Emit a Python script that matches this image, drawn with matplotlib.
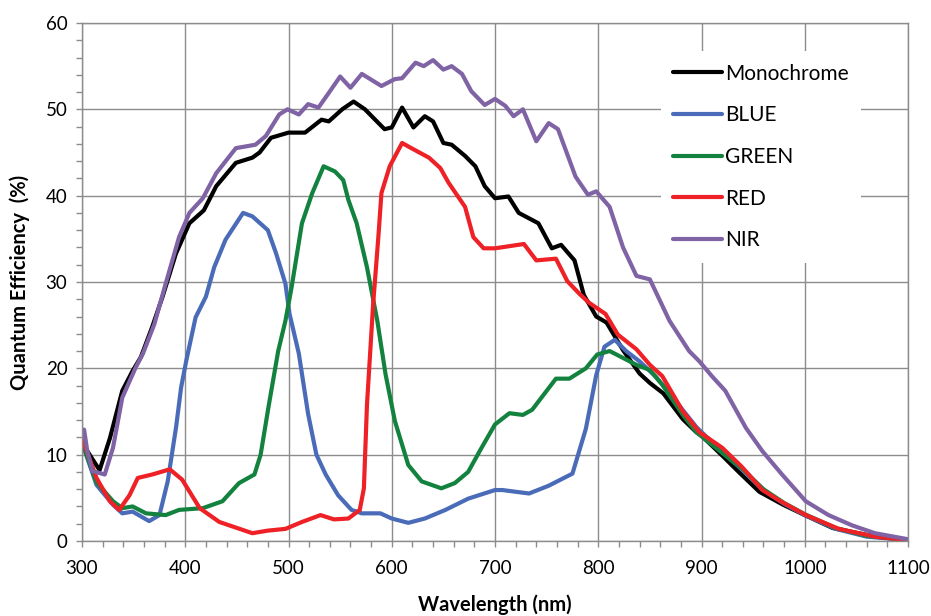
import matplotlib
matplotlib.use("Agg")
import matplotlib.pyplot as plt
from matplotlib.ticker import MultipleLocator

plt.rcParams['font.family'] = ['Lato', 'DejaVu Sans']

# Wavelength (nm) / quantum efficiency (%)
mono_x = [302, 310, 317, 327, 339, 349, 357, 368, 378, 391, 404, 418, 430, 449, 465, 472, 483, 500,
          516, 532, 539, 552, 563, 574, 593, 600, 610, 621, 632, 640, 650, 658, 671, 681, 690, 700,
          713, 723, 742, 755, 764, 777, 786, 798, 808, 824, 840, 850, 863, 882, 895, 900, 920, 936,
          956, 979, 1000, 1027, 1060, 1100]
mono_y = [11.0, 9.5, 8.2, 11.9, 17.4, 19.7, 21.3, 24.8, 28.3, 33.3, 36.8, 38.3, 41.1, 43.8, 44.4, 45.0,
          46.7, 47.3, 47.3, 48.8, 48.6, 50.0, 50.9, 50.0, 47.7, 47.9, 50.2, 47.9, 49.2, 48.6, 46.1, 45.9,
          44.6, 43.4, 41.1, 39.7, 39.9, 38.0, 36.8, 33.9, 34.3, 32.5, 28.5, 26.0, 25.3, 22.1, 19.4, 18.3,
          17.1, 14.1, 12.6, 12.2, 9.9, 8.0, 5.7, 4.2, 3.0, 1.5, 0.7, 0.1]

blue_x = [300, 314, 330, 339, 349, 365, 375, 383, 391, 396, 401, 410, 420, 428, 439, 456, 465, 480,
          488, 497, 501, 510, 519, 527, 536, 548, 561, 571, 589, 600, 616, 632, 652, 674, 700, 707,
          733, 752, 775, 788, 798, 806, 816, 827, 840, 856, 875, 895, 920, 940, 960, 980, 1000, 1030,
          1060, 1100]
blue_y = [11.4, 6.5, 4.2, 3.2, 3.4, 2.3, 3.0, 6.9, 13.1, 17.8, 20.9, 25.9, 28.3, 31.7, 34.9, 38.0, 37.6,
          36.0, 33.3, 29.8, 26.3, 21.7, 14.7, 10.0, 7.7, 5.3, 3.6, 3.2, 3.2, 2.6, 2.1, 2.6, 3.6, 4.9, 5.9,
          5.9, 5.5, 6.4, 7.8, 13.0, 19.2, 22.5, 23.3, 22.0, 20.8, 19.0, 16.2, 13.2, 10.3, 8.2, 5.9, 4.3,
          3.0, 1.4, 0.5, 0.1]

green_x = [300, 314, 330, 339, 349, 362, 381, 394, 417, 436, 452, 467, 473, 481, 490, 497, 503, 513,
           523, 534, 545, 553, 558, 566, 576, 586, 594, 603, 616, 629, 648, 661, 674, 687, 700, 714,
           727, 736, 759, 772, 788, 799, 811, 824, 837, 850, 862, 882, 895, 920, 940, 960, 980, 1000,
           1030, 1060, 1100]
green_y = [11.4, 6.8, 4.6, 3.8, 4.0, 3.2, 3.0, 3.6, 3.8, 4.6, 6.7, 7.7, 10.0, 15.8, 22.0, 25.5, 29.4,
           36.8, 40.3, 43.4, 42.8, 41.8, 39.5, 36.8, 31.7, 25.5, 19.3, 13.9, 8.8, 6.9, 6.1, 6.7, 8.0,
           10.8, 13.5, 14.8, 14.6, 15.2, 18.8, 18.8, 20.0, 21.6, 22.0, 21.2, 20.4, 19.8, 18.1, 14.6,
           12.6, 10.2, 8.3, 6.0, 4.4, 3.1, 1.5, 0.6, 0.1]

red_x = [300, 314, 327, 336, 346, 354, 368, 385, 397, 414, 433, 465, 480, 497, 513, 531, 544, 558,
         569, 573, 576, 582, 587, 590, 598, 610, 619, 636, 647, 655, 671, 679, 689, 700, 728, 740,
         759, 770, 782, 791, 807, 819, 837, 850, 862, 882, 898, 920, 939, 959, 978, 1001, 1033, 1068,
         1100]
red_y = [11.9, 7.3, 4.6, 3.6, 5.3, 7.3, 7.7, 8.3, 7.1, 3.8, 2.2, 0.9, 1.2, 1.4, 2.2, 3.0, 2.5, 2.6,
         3.6, 6.1, 15.8, 27.5, 35.2, 40.3, 43.4, 46.1, 45.5, 44.4, 43.2, 41.5, 38.7, 35.2, 33.9, 33.9,
         34.4, 32.5, 32.7, 30.1, 28.6, 27.6, 26.3, 23.9, 22.2, 20.4, 19.1, 15.0, 12.6, 10.8, 8.6, 5.9,
         4.5, 3.0, 1.4, 0.5, 0.1]

nir_x = [302, 305, 310, 322, 330, 339, 352, 359, 370, 381, 394, 404, 417, 430, 449, 468, 478, 491,
         499, 510, 519, 529, 539, 550, 560, 571, 590, 603, 610, 623, 631, 640, 650, 658, 668, 677,
         690, 700, 710, 718, 727, 740, 752, 761, 778, 790, 798, 811, 824, 837, 850, 869, 888, 898,
         910, 923, 943, 959, 978, 1001, 1023, 1046, 1068, 1100]
nir_y = [12.9, 10.5, 8.1, 7.7, 10.8, 16.6, 20.1, 21.7, 25.1, 29.8, 35.2, 38.0, 39.7, 42.6, 45.5, 45.9,
         46.9, 49.4, 50.0, 49.4, 50.6, 50.2, 51.9, 53.8, 52.5, 54.1, 52.7, 53.5, 53.6, 55.4, 55.0, 55.7,
         54.6, 55.0, 54.1, 52.1, 50.5, 51.2, 50.4, 49.2, 50.0, 46.3, 48.4, 47.7, 42.2, 40.1, 40.5, 38.7,
         34.0, 30.7, 30.3, 25.5, 22.0, 20.8, 19.1, 17.4, 13.1, 10.4, 7.7, 4.6, 3.0, 1.8, 0.9, 0.2]

series = [
    ("Monochrome", mono_x, mono_y, "#000000"),
    ("BLUE", blue_x, blue_y, "#4a6cb8"),
    ("GREEN", green_x, green_y, "#13823f"),
    ("RED", red_x, red_y, "#ee2126"),
    ("NIR", nir_x, nir_y, "#7f63a5"),
]

fig = plt.figure(figsize=(9.31, 6.16), dpi=100)
ax = fig.add_axes([0.0881, 0.1218, 0.8872, 0.8409])

for name, xs, ys, col in series:
    ax.plot(xs, ys, color=col, lw=3.0, label=name, solid_joinstyle="round", solid_capstyle="round")

ax.set_xlim(300, 1100)
ax.set_ylim(0, 60)
ax.xaxis.set_major_locator(MultipleLocator(100))
ax.xaxis.set_minor_locator(MultipleLocator(20))
ax.yaxis.set_major_locator(MultipleLocator(10))
ax.yaxis.set_minor_locator(MultipleLocator(2))
ax.grid(True, which="major", color="#8c8c8c", lw=1.0)
ax.set_axisbelow(True)
for sp in ax.spines.values():
    sp.set_color("#8c8c8c")
    sp.set_linewidth(1.0)
ax.tick_params(which="both", direction="out", length=4.5, width=1.0, color="#8c8c8c")
ax.tick_params(axis="both", which="major", labelsize=13.5)
ax.tick_params(axis="x", pad=9)
ax.tick_params(axis="y", pad=6)

ax.set_xlabel("Wavelength (nm)", fontsize=14.5, fontweight="bold", labelpad=13)
ax.set_ylabel("Quantum Efficiency  (%)", fontsize=14.5, fontweight="bold", labelpad=11)

leg = ax.legend(loc="upper left", bbox_to_anchor=(0.688, 0.966), fontsize=15, frameon=True,
                facecolor="white", edgecolor="none", framealpha=1.0, fancybox=False,
                handlelength=2.36, handletextpad=0.12, labelspacing=1.04, borderpad=0.6)
for line in leg.get_lines():
    line.set_linewidth(3.0)

fig.savefig("out.png", dpi=100)
